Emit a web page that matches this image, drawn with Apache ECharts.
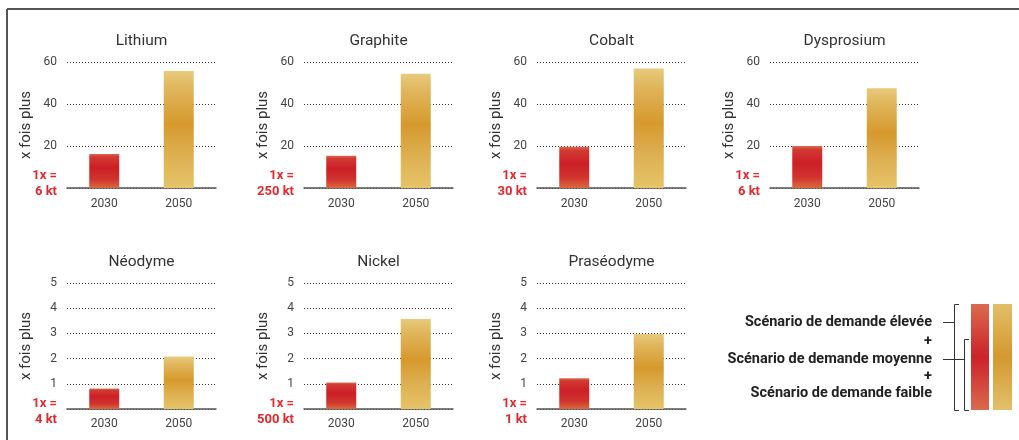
<!DOCTYPE html>
<html>
<head>
<meta charset="utf-8">
<script src="https://cdn.jsdelivr.net/npm/echarts@6/dist/echarts.min.js"></script>
<style>html,body{margin:0;padding:0;background:#fff;}#c{width:1019px;height:440px;}</style>
</head>
<body>
<div id="c"></div>
<script>
// ---- data ----
const materials = ['Lithium', 'Graphite', 'Cobalt', 'Dysprosium', 'Néodyme', 'Nickel', 'Praséodyme'];
const years = ['2030', '2050'];
const values2030 = [16.2, 15.3, 19.6, 20.0, 0.81, 1.05, 1.22];
const values2050 = [55.7, 54.4, 56.9, 47.5, 2.08, 3.57, 2.98];
const baseUnits = ['6 kt', '250 kt', '30 kt', '6 kt', '4 kt', '500 kt', '1 kt'];
const yMax = [60, 60, 60, 60, 5, 5, 5];
const yInterval = [20, 20, 20, 20, 1, 1, 1];
const yAxisName = 'x fois plus';
const legendTexts = ['Scénario de demande élevée', '+', 'Scénario de demande moyenne', '+', 'Scénario de demande faible'];

// ---- layout / style ----
const FONT = 'Roboto';
const colLefts = [67, 304, 537, 770];
const rowTops = [62, 283];
const gridW = 149, gridH = 126;

const redGrad = () => new echarts.graphic.LinearGradient(0, 0, 0, 1, [
  {offset: 0, color: '#da6a50'}, {offset: 0.08, color: '#d23b33'},
  {offset: 0.4, color: '#cc1f27'}, {offset: 0.75, color: '#d0352d'},
  {offset: 1, color: '#d9693f'}]);
const goldGrad = () => new echarts.graphic.LinearGradient(0, 0, 0, 1, [
  {offset: 0, color: '#e8ca7c'}, {offset: 0.15, color: '#e0b65c'},
  {offset: 0.45, color: '#d6992d'}, {offset: 0.72, color: '#ddb052'},
  {offset: 1, color: '#e6c468'}]);

const chart = echarts.init(document.getElementById('c'), null, {renderer: 'canvas'});
const grids = [], xAxes = [], yAxes = [], series = [], titles = [];

materials.forEach((m, i) => {
  const row = i < 4 ? 0 : 1;
  const col = i < 4 ? i : i - 4;
  const left = colLefts[col], top = rowTops[row];
  grids.push({left: left, top: top, width: gridW, height: gridH});
  titles.push({
    text: m, left: left + gridW / 2, top: top - 30, textAlign: 'center', padding: 0,
    textStyle: {fontFamily: FONT, fontSize: 15.5, fontWeight: 'normal', color: '#333', lineHeight: 18}
  });
  xAxes.push({
    type: 'category', gridIndex: i, data: years,
    axisLine: {lineStyle: {color: '#555', width: 1.5}},
    axisTick: {show: false},
    axisLabel: {margin: row ? 9 : 10, fontSize: 12, color: '#444', fontFamily: FONT}
  });
  const unit = baseUnits[i];
  yAxes.push({
    type: 'value', gridIndex: i, min: 0, max: yMax[i], interval: yInterval[i],
    name: yAxisName, nameLocation: 'middle', nameGap: 33, nameMoveOverlap: false,
    nameTextStyle: {fontSize: 15, color: '#333', fontFamily: FONT},
    axisLine: {show: false}, axisTick: {show: false},
    splitLine: {lineStyle: {type: [1, 2], color: '#333', width: 1}},
    axisLabel: {
      margin: 10, fontSize: 12, color: '#444', fontFamily: FONT,
      formatter: v => v === 0
        ? (row === 0 ? '{r|1x =}\n{r|' + unit + '}\n{g| }' : '{g| }\n{r|1x =}\n{r|' + unit + '}')
        : String(v),
      rich: {
        r: {color: '#e5282e', fontWeight: 'bold', fontSize: 13, lineHeight: 16, fontFamily: FONT, align: 'right'},
        g: {fontSize: 1, lineHeight: row === 0 ? 9 : 6}
      }
    }
  });
  series.push({
    type: 'bar', xAxisIndex: i, yAxisIndex: i, barWidth: 30, silent: true,
    data: [
      {value: values2030[i], itemStyle: {color: redGrad()}},
      {value: values2050[i], itemStyle: {color: goldGrad()}}
    ]
  });
});

// legend illustration
const legendYs = [322.7, 341, 359, 376, 393];
const graphics = [
  {type: 'line', shape: {x1: 7, y1: 9, x2: 1019, y2: 9}, style: {stroke: '#555', lineWidth: 2}},
  {type: 'line', shape: {x1: 7, y1: 9, x2: 7, y2: 440}, style: {stroke: '#555', lineWidth: 2}},
  {type: 'rect', shape: {x: 971, y: 304, width: 18, height: 106}, style: {fill: new echarts.graphic.LinearGradient(0, 0, 0, 1, [
    {offset: 0, color: '#da6a4e'}, {offset: 0.5, color: '#cc2229'}, {offset: 1, color: '#da6a4e'}])}},
  {type: 'rect', shape: {x: 993, y: 304, width: 19, height: 106}, style: {fill: new echarts.graphic.LinearGradient(0, 0, 0, 1, [
    {offset: 0, color: '#e3be68'}, {offset: 0.5, color: '#d4982e'}, {offset: 1, color: '#e3c06c'}])}},
  {type: 'polyline', shape: {points: [[959, 304.5], [954.5, 304.5], [954.5, 410.5], [959, 410.5]]}, style: {stroke: '#333', lineWidth: 1, fill: null}},
  {type: 'polyline', shape: {points: [[969, 339.5], [964.5, 339.5], [964.5, 410.5], [969, 410.5]]}, style: {stroke: '#333', lineWidth: 1, fill: null}},
  {type: 'line', shape: {x1: 943, y1: 322.5, x2: 954.5, y2: 322.5}, style: {stroke: '#333', lineWidth: 1}},
  {type: 'line', shape: {x1: 943, y1: 359.5, x2: 964.5, y2: 359.5}, style: {stroke: '#333', lineWidth: 1}}
];
legendTexts.forEach((t, k) => {
  graphics.push({type: 'text', style: {text: t, x: 932, y: legendYs[k], align: 'right', verticalAlign: 'middle',
    font: 'bold 14.5px ' + FONT, fill: '#222'}});
});

chart.setOption({
  animation: false,
  backgroundColor: '#fff',
  title: titles,
  grid: grids,
  xAxis: xAxes,
  yAxis: yAxes,
  series: series,
  graphic: graphics
});
</script>
</body>
</html>
